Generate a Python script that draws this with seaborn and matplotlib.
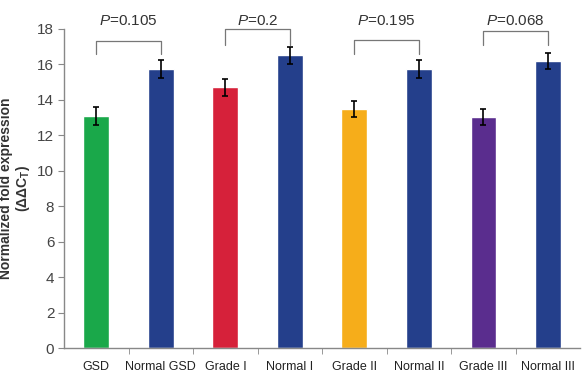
import numpy as np
import pandas as pd
import matplotlib
matplotlib.use('Agg')
import matplotlib.pyplot as plt
import seaborn as sns

# Data
groups = ['GSD', 'Normal GSD', 'Grade I', 'Normal I', 'Grade II', 'Normal II', 'Grade III', 'Normal III']
values = [13.1, 15.75, 14.7, 16.5, 13.5, 15.75, 13.05, 16.2]
errors = [0.5, 0.5, 0.5, 0.5, 0.45, 0.5, 0.45, 0.45]
colors = ['#1aa84a', '#243f8b', '#d6213a', '#243f8b', '#f6ad1a', '#243f8b', '#5a2d8e', '#243f8b']
p_labels = ['0.105', '0.2', '0.195', '0.068']
bracket_tops = [17.3, 18.0, 17.4, 17.9]
bracket_legs = [16.6, 17.1, 16.6, 17.1]

sns.set_style('white')
plt.rcParams['font.family'] = ['Liberation Sans', 'DejaVu Sans']
plt.rcParams['mathtext.fontset'] = 'custom'
plt.rcParams['mathtext.it'] = 'Liberation Sans:italic'
plt.rcParams['mathtext.rm'] = 'Liberation Sans'
plt.rcParams['mathtext.bf'] = 'Liberation Sans:bold'

df = pd.DataFrame({'group': groups, 'value': values})

fig = plt.figure(figsize=(5.82, 3.75), dpi=100)
ax = fig.add_axes([0.11, 0.072, 0.887, 0.851])

sns.barplot(data=df, x='group', y='value', hue='group', palette=colors,
            width=0.4, legend=False, ax=ax, saturation=1)
ax.errorbar(np.arange(len(groups)), values, yerr=errors, fmt='none',
            ecolor='black', elinewidth=1.2, capsize=2.5, capthick=1.2)

# P-value brackets
for i, (p, top, leg) in enumerate(zip(p_labels, bracket_tops, bracket_legs)):
    x0, x1 = 2 * i, 2 * i + 1
    ax.plot([x0, x0, x1, x1], [leg, top, top, leg], color='#777777', lw=0.9, clip_on=False)
    ax.text((x0 + x1) / 2, 18.45, '$P$=' + p, ha='center', va='center',
            fontsize=11, color='#333333')

ax.set_ylim(0, 18)
ax.set_xlim(-0.5, 7.5)
ax.set_yticks(range(0, 19, 2))
ax.set_xticks(np.arange(0.5, 7.5, 1), minor=True)
ax.tick_params(axis='x', which='major', length=0, pad=9, labelsize=9, colors='#222222')
ax.tick_params(axis='x', which='minor', length=4, color='#888888', direction='out', bottom=True)
ax.tick_params(axis='y', length=4, color='#888888', direction='out', left=True,
               labelsize=11, labelcolor='#444444', pad=3)
for s in ['top', 'right']:
    ax.spines[s].set_visible(False)
for s in ['left', 'bottom']:
    ax.spines[s].set_color('#888888')
    ax.spines[s].set_linewidth(1)

ax.set_xlabel('')
ax.set_ylabel('Normalized fold expression\n($\\mathbf{\\Delta\\Delta C_T}$)', fontsize=10,
              fontweight='bold', color='#333333', linespacing=1.1)
ax.yaxis.set_label_coords(-0.062, 0.5)

fig.savefig('out.png', dpi=100)
